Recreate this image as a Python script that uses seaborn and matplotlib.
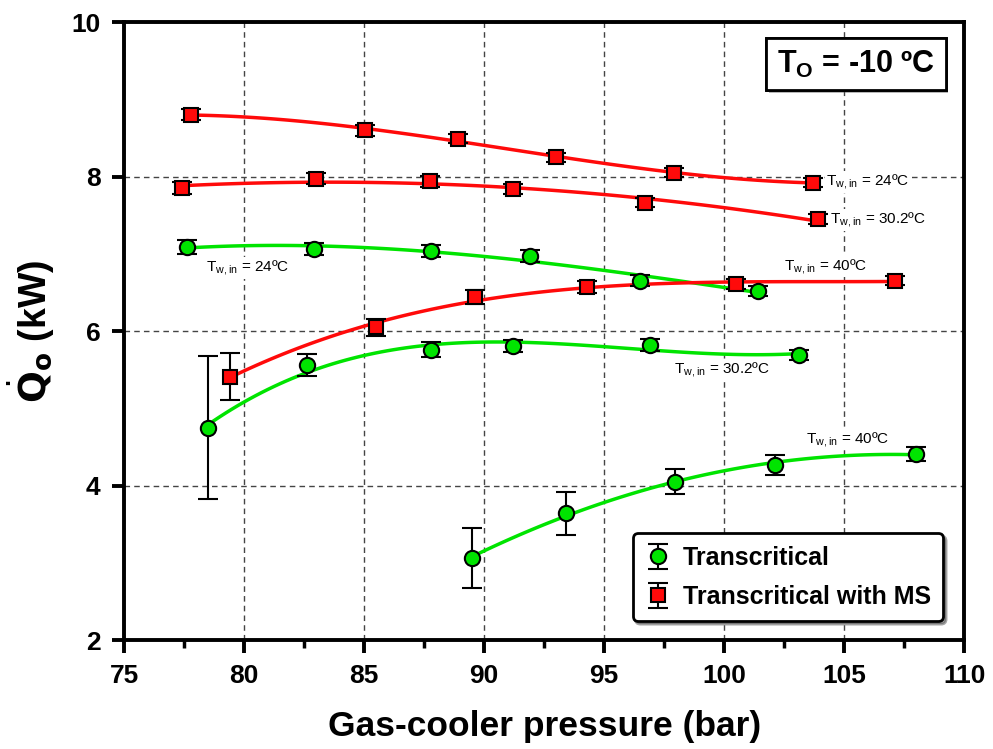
import numpy as np
import matplotlib
matplotlib.use("Agg")
import matplotlib.pyplot as plt
import matplotlib.patheffects as pe
from matplotlib.ticker import MultipleLocator
import seaborn as sns

sns.set_style("ticks")
plt.rcParams['font.family'] = ['Liberation Sans', 'DejaVu Sans']
for k in ['text.color', 'axes.labelcolor', 'xtick.color', 'ytick.color', 'axes.edgecolor']:
    plt.rcParams[k] = 'black'

# Transcritical (green circles)
tc24_p = [77.6, 82.9, 87.8, 91.9, 96.5, 101.4]
tc24_q = [7.09, 7.06, 7.04, 6.97, 6.65, 6.52]
tc24_e = [0.09, 0.08, 0.08, 0.08, 0.07, 0.06]

tc30_p = [78.5, 82.6, 87.8, 91.2, 96.9, 103.1]
tc30_q = [4.75, 5.56, 5.76, 5.81, 5.82, 5.69]
tc30_e = [0.93, 0.14, 0.10, 0.08, 0.08, 0.07]

tc40_p = [89.5, 93.4, 97.95, 102.1, 108.0]
tc40_q = [3.06, 3.64, 4.05, 4.27, 4.41]
tc40_e = [0.39, 0.28, 0.16, 0.13, 0.09]

# Transcritical with MS (red squares)
ms24_p = [77.8, 85.05, 88.9, 93.0, 97.9, 103.7]
ms24_q = [8.80, 8.60, 8.49, 8.25, 8.05, 7.92]
ms24_e = [0.07, 0.07, 0.06, 0.06, 0.06, 0.06]

ms30_p = [77.4, 83.0, 87.75, 91.2, 96.7, 103.9]
ms30_q = [7.85, 7.97, 7.94, 7.84, 7.66, 7.45]
ms30_e = [0.08, 0.07, 0.07, 0.06, 0.06, 0.06]

ms40_p = [79.4, 85.5, 89.6, 94.3, 100.5, 107.1]
ms40_q = [5.41, 6.05, 6.44, 6.57, 6.61, 6.65]
ms40_e = [0.30, 0.11, 0.09, 0.08, 0.06, 0.06]

green = "#00e400"
red = "#ff0a0a"

fig = plt.figure(figsize=(9.93, 7.49), dpi=100)
ax = fig.add_axes([0.125, 0.1455, 0.846, 0.825])

# (x, y, err, polynomial order of the smooth curve)
green_sets = [(tc24_p, tc24_q, tc24_e, 3), (tc30_p, tc30_q, tc30_e, 3), (tc40_p, tc40_q, tc40_e, 2)]
red_sets = [(ms24_p, ms24_q, ms24_e, 3), (ms30_p, ms30_q, ms30_e, 2), (ms40_p, ms40_q, ms40_e, 3)]

# smooth fitted curves
for p, q, e, n in green_sets:
    sns.regplot(x=np.array(p), y=np.array(q), order=n, ci=None, scatter=False,
                line_kws=dict(color=green, lw=2.5, zorder=2), ax=ax)
for p, q, e, n in red_sets:
    sns.regplot(x=np.array(p), y=np.array(q), order=n, ci=None, scatter=False,
                line_kws=dict(color=red, lw=2.5, zorder=2), ax=ax)

h_g = h_r = None
for p, q, e, n in green_sets:
    h_g = ax.errorbar(p, q, yerr=e, fmt='o', ms=11, mfc=green, mec='black', mew=1.5,
                      ecolor='black', elinewidth=1.5, capsize=7, capthick=1.5, zorder=4)
for p, q, e, n in red_sets:
    h_r = ax.errorbar(p, q, yerr=e, fmt='s', ms=10, mfc=red, mec='black', mew=1.5,
                      ecolor='black', elinewidth=1.5, capsize=7, capthick=1.5, zorder=4)

ax.set_xlim(75, 110)
ax.set_ylim(2, 10)
ax.xaxis.set_major_locator(MultipleLocator(5))
ax.xaxis.set_minor_locator(MultipleLocator(2.5))
ax.yaxis.set_major_locator(MultipleLocator(2))
ax.grid(True, which='major', ls=(0, (4, 3)), color='#444444', lw=1)
for s in ax.spines.values():
    s.set_linewidth(2.8)
    s.set_visible(True)
ax.tick_params(which='major', direction='out', length=9, width=2.8, labelsize=19, pad=8)
ax.tick_params(which='minor', direction='out', length=6, width=2.5)
for lbl in ax.get_xticklabels() + ax.get_yticklabels():
    lbl.set_fontweight('bold')

ax.set_xlabel("Gas-cooler pressure (bar)", fontsize=25.5, fontweight='bold', labelpad=16)
ax.set_ylabel(r"$\dot{\mathbf{Q}}_{\mathbf{o}}$ (kW)", fontsize=27, fontweight='bold', labelpad=10)

lab_kw = dict(fontsize=11, va='center', ha='left', zorder=5,
              bbox=dict(facecolor='white', edgecolor='none', pad=1))
ax.text(78.4, 6.82, r"T$\mathregular{_{w,in}}$ = 24ºC", **lab_kw)
ax.text(104.25, 7.93, r"T$\mathregular{_{w,in}}$ = 24ºC", **lab_kw)
ax.text(104.4, 7.44, r"T$\mathregular{_{w,in}}$ = 30.2ºC", **lab_kw)
ax.text(102.5, 6.84, r"T$\mathregular{_{w,in}}$ = 40ºC", **lab_kw)
ax.text(97.9, 5.5, r"T$\mathregular{_{w,in}}$ = 30.2ºC", **lab_kw)
ax.text(103.4, 4.6, r"T$\mathregular{_{w,in}}$ = 40ºC", **lab_kw)

t = ax.text(0.871, 0.932, r"T$\mathregular{_O}$ = -10 ºC", transform=ax.transAxes,
            fontsize=22, fontweight='bold', ha='center', va='center', zorder=6,
            bbox=dict(boxstyle='square,pad=0.35', facecolor='white', edgecolor='black', lw=2))
t.get_bbox_patch().set_path_effects([pe.withSimplePatchShadow(offset=(2, -2), alpha=0.4), pe.Normal()])

leg = ax.legend([h_g, h_r], ["Transcritical", "Transcritical with MS"], loc='lower right',
                bbox_to_anchor=(0.99, 0.01), fancybox=True, shadow=True, frameon=True,
                prop=dict(weight='bold', size=18),
                handlelength=1.0, handletextpad=0.5, borderpad=0.5, labelspacing=0.6)
leg.get_frame().set_edgecolor('black')
leg.get_frame().set_linewidth(2)
leg.set_zorder(10)

fig.savefig("out.png", dpi=100)
